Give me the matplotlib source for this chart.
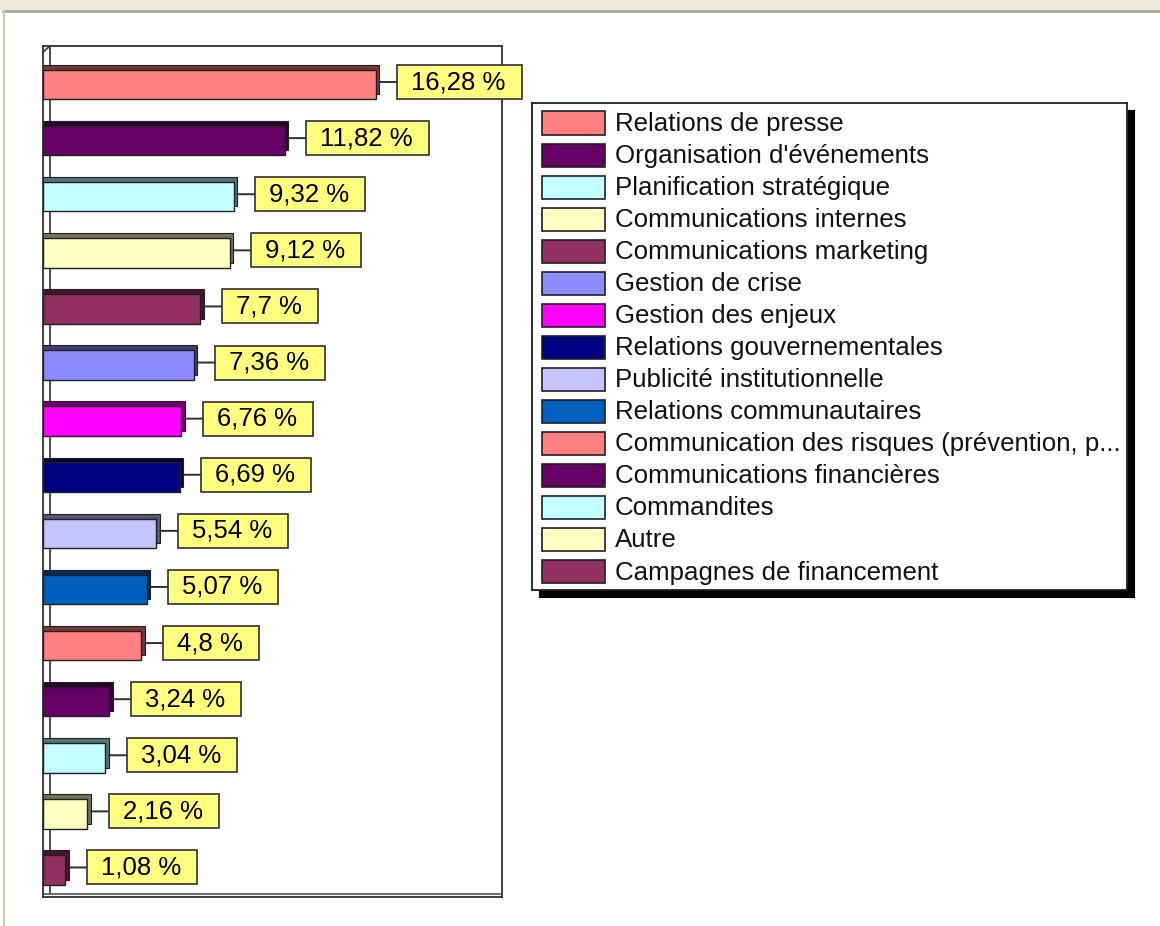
import matplotlib
matplotlib.use("Agg")
import matplotlib.pyplot as plt
import numpy as np
from matplotlib.patches import Rectangle
from matplotlib.lines import Line2D
from matplotlib.path import Path
from matplotlib.colors import to_rgb

plt.rcParams['font.family'] = ['Liberation Sans', 'DejaVu Sans']

# data, top to bottom
categories = [
    "Relations de presse",
    "Organisation d'événements",
    "Planification stratégique",
    "Communications internes",
    "Communications marketing",
    "Gestion de crise",
    "Gestion des enjeux",
    "Relations gouvernementales",
    "Publicité institutionnelle",
    "Relations communautaires",
    "Communication des risques (prévention, p...",
    "Communications financières",
    "Commandites",
    "Autre",
    "Campagnes de financement",
]
values = [16.28, 11.82, 9.32, 9.12, 7.7, 7.36, 6.76, 6.69, 5.54, 5.07, 4.8, 3.24, 3.04, 2.16, 1.08]
value_labels = ["16,28 %", "11,82 %", "9,32 %", "9,12 %", "7,7 %", "7,36 %", "6,76 %", "6,69 %",
                "5,54 %", "5,07 %", "4,8 %", "3,24 %", "3,04 %", "2,16 %", "1,08 %"]

bar_colors = ['#FF8080', '#660066', '#C4FFFF', '#FFFFC4', '#933062', '#8C8CFF', '#FF00FF',
              '#000080', '#C4C4FF', '#0060C0', '#FF8080', '#660066', '#C4FFFF', '#FFFFC4', '#933062']

W, H = 1160, 926
fig = plt.figure(figsize=(W / 100, H / 100), dpi=100)
fig.patch.set_facecolor('white')


def px(x0, y0, x1, y1):
    # pixel box (top-left origin) -> figure fraction rect
    return [x0 / W, 1 - y1 / H, (x1 - x0) / W, (y1 - y0) / H]


# window chrome
fig.add_artist(Rectangle((0, 1 - 10 / H), 1, 10 / H, transform=fig.transFigure,
                         facecolor='#ECE9D8', edgecolor='none', zorder=0))
fig.add_artist(Line2D([0.003, 1], [1 - 11 / H, 1 - 11 / H], transform=fig.transFigure,
                      color='#A8A898', lw=2))
fig.add_artist(Line2D([3.5 / W, 3.5 / W], [0, 1 - 11 / H], transform=fig.transFigure,
                      color='#C8C8B8', lw=1.5))

# main plot
ax = fig.add_axes(px(43, 46, 502, 897))
ax.set_xlim(0, 459 / 20.45)
ax.set_ylim(14.526, -0.642)
ax.set_xticks([])
ax.set_yticks([])
for s in ax.spines.values():
    s.set_color('#303030')
    s.set_linewidth(1.3)

# back wall lines for the 3D look
ax.add_line(Line2D([7 / 459, 7 / 459], [3 / 851, 1], transform=ax.transAxes, color='#404040', lw=1.3))
ax.add_line(Line2D([0, 7 / 459], [1 - 6 / 851, 1], transform=ax.transAxes, color='#404040', lw=1.3))
ax.add_line(Line2D([0, 1 - 2 / 459], [3 / 851, 3 / 851], transform=ax.transAxes, color='#606060', lw=1.3))

ypos = np.arange(len(values))
bar_h = 0.526
dy = 0.0445
dx = 0.171
shade = [tuple(c * 0.45 for c in to_rgb(col)) for col in bar_colors]

ax.barh(ypos - dy, np.array(values) + dx, height=bar_h, left=0, color=shade,
        edgecolor='#202020', linewidth=0.8, zorder=2)
ax.barh(ypos + dy, values, height=bar_h, left=0, color=bar_colors,
        edgecolor='#202020', linewidth=1.0, zorder=3)


def label_box(x0, y0, width, height, mutation_size):
    padx = 14
    cy = y0 + height / 2
    h = 34
    xa, xb = x0 - padx, x0 + width + padx + 2
    return Path([(xa, cy - h / 2), (xb, cy - h / 2), (xb, cy + h / 2), (xa, cy + h / 2),
                 (xa, cy - h / 2)], closed=True)


for i, (v, lab) in enumerate(zip(values, value_labels)):
    ax.annotate(lab, xy=(v + dx, i), xytext=(32 * 0.72, 0), textcoords='offset points',
                ha='left', va='center', fontsize=18.5, color='black', zorder=5,
                bbox=dict(boxstyle=label_box, facecolor='#FFFF80', edgecolor='#303030', lw=1.2),
                arrowprops=dict(arrowstyle='-', color='#303030', lw=1.4, shrinkA=0, shrinkB=0))

# legend
shadow = fig.add_axes(px(539, 110, 1134, 597))
shadow.set_facecolor('black')
shadow.set_xticks([])
shadow.set_yticks([])
shadow.set_zorder(1)

lax = fig.add_axes(px(532, 103, 1127, 590))
lax.set_zorder(2)
lax.set_facecolor('white')
lax.set_xlim(0, 595)
lax.set_ylim((487 - 20) / 32.04, -20 / 32.04)
lax.set_xticks([])
lax.set_yticks([])
for s in lax.spines.values():
    s.set_color('#202020')
    s.set_linewidth(1.3)

for i, (name, col) in enumerate(zip(categories, bar_colors)):
    lax.add_patch(Rectangle((10, i - 0.36), 63, 0.72, facecolor=col, edgecolor='#202020', lw=1.2))
    lax.text(83, i + 0.03, name, ha='left', va='center', fontsize=18.6, color='#111111')

fig.savefig('out.png', dpi=100)
